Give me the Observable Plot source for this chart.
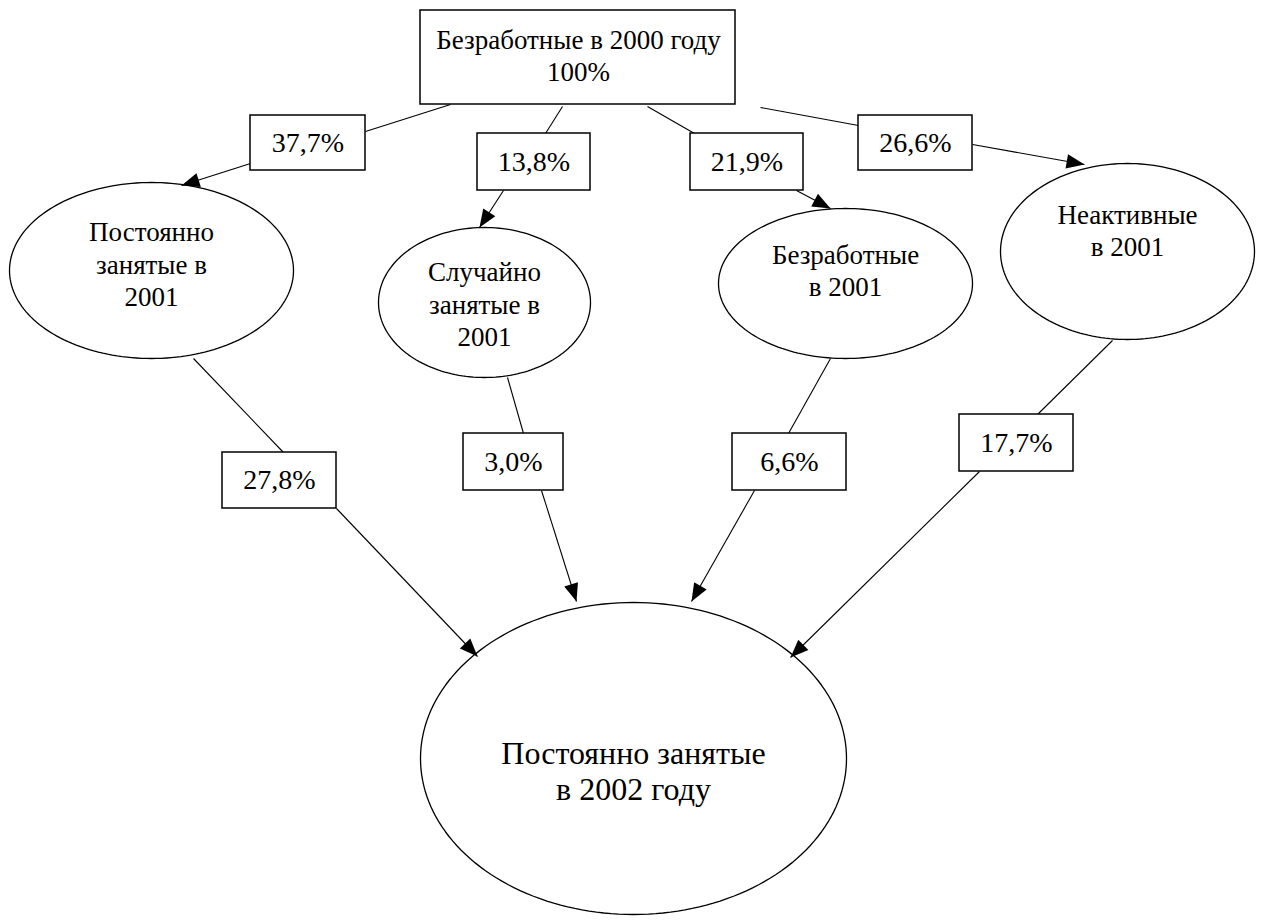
<!DOCTYPE html>
<html>
<head>
<meta charset="utf-8">
<script src="https://cdn.jsdelivr.net/npm/d3@7"></script>
<script src="https://cdn.jsdelivr.net/npm/@observablehq/plot@0.6"></script>
<style>
  html, body { margin: 0; padding: 0; background: #fff; }
  #chart svg { display: block; }
  #chart svg text { font-family: "Liberation Serif", "Times New Roman", "DejaVu Serif", serif !important; }
</style>
</head>
<body>
<div id="chart"></div>
<script>
// ---------- data ----------
const sourceLabel = "Безработные в 2000 году";
const sourceShare = 100;
const statuses2001 = ["Постоянно\nзанятые в\n2001", "Случайно\nзанятые в\n2001", "Безработные\nв 2001", "Неактивные\nв 2001"];
const sharesIn2001 = [37.7, 13.8, 21.9, 26.6];
const sharesTo2002 = [27.8, 3.0, 6.6, 17.7];
const targetLabel = "Постоянно занятые\nв 2002 году";

// ---------- layout (diagram space, same units as the page) ----------
const W = 1262, H = 920;
const sourceBox = {x1: 420, x2: 735, y1: 10, y2: 104, tx: 578, ty: 54};
const ellipses2001 = [
  {cx: 151, cy: 270, rx: 142, ry: 88, ty: 263},
  {cx: 484, cy: 302, rx: 106, ry: 75, ty: 303},
  {cx: 845, cy: 283, rx: 127, ry: 75, ty: 269},
  {cx: 1127, cy: 251, rx: 127, ry: 88, ty: 229}
];
const targetEllipse = {cx: 633, cy: 758, rx: 213, ry: 156, ty: 770};
const boxes1 = [
  {x1: 250, x2: 365, y1: 115, y2: 170},
  {x1: 477, x2: 590, y1: 133, y2: 190},
  {x1: 690, x2: 803, y1: 133, y2: 190},
  {x1: 858, x2: 972, y1: 115, y2: 170}
];
const boxes2 = [
  {x1: 222, x2: 336, y1: 452, y2: 508},
  {x1: 463, x2: 563, y1: 433, y2: 490},
  {x1: 732, x2: 846, y1: 433, y2: 490},
  {x1: 959, x2: 1073, y1: 414, y2: 471}
];
// each connector: [start, box-entry, box-exit, arrow tip]
const route1 = [
  [[450, 104], [365, 131], [250, 163], [181, 185]],
  [[562, 106], [545, 133], [503, 190], [479, 227]],
  [[647, 106], [694, 133], [796, 190], [830, 208]],
  [[760, 107], [858, 125], [972, 144], [1084, 164]]
];
const route2 = [
  [[193, 358], [283, 452], [336, 508], [477, 656]],
  [[507, 377], [523, 433], [541, 490], [576, 601]],
  [[830, 358], [788, 433], [754, 490], [691, 601]],
  [[1112, 340], [1037, 414], [979, 471], [790, 657]]
];

// ---------- helpers ----------
const SERIF = "Liberation Serif";
const fmt = v => d3.format(".1f")(v).replace(".", ",") + "%";
const ellipsePoints = (e, id) => d3.range(0, 181).map(k => {
  const t = (k / 180) * 2 * Math.PI;
  return {id, x: e.cx + e.rx * Math.cos(t), y: e.cy + e.ry * Math.sin(t)};
});
const ellipseData = [
  ...ellipses2001.flatMap((e, i) => ellipsePoints(e, "e" + i)),
  ...ellipsePoints(targetEllipse, "target")
];
const routes = [...route1, ...route2];
const links = routes.flatMap(r => [
  {x1: r[0][0], y1: r[0][1], x2: r[1][0], y2: r[1][1]},
  {x1: r[2][0], y1: r[2][1], x2: r[3][0], y2: r[3][1]}
]);
const heads = routes.map(r => {
  const [a, b] = [r[2], r[3]];
  const ang = Math.atan2(b[0] - a[0], -(b[1] - a[1])) * 180 / Math.PI;
  return {x: b[0], y: b[1], rotate: ang};
});
const arrowHead = {
  draw(ctx, size) {
    const r = Math.sqrt(size / Math.PI);
    const L = 2 * r, w = 0.8 * r;
    ctx.moveTo(0, 0);
    ctx.lineTo(w, L);
    ctx.lineTo(-w, L);
    ctx.closePath();
  }
};
const boxes = [{...sourceBox}, ...boxes1, ...boxes2];
const shareLabels = [
  ...boxes1.map((b, i) => ({x: (b.x1 + b.x2) / 2, y: (b.y1 + b.y2) / 2, text: fmt(sharesIn2001[i])})),
  ...boxes2.map((b, i) => ({x: (b.x1 + b.x2) / 2, y: (b.y1 + b.y2) / 2, text: fmt(sharesTo2002[i])}))
];
const nodeLabels = [
  {x: sourceBox.tx, y: sourceBox.ty, text: sourceLabel + "\n" + sourceShare + "%"},
  ...ellipses2001.map((e, i) => ({x: e.cx, y: e.ty, text: statuses2001[i]}))
];

const chart = Plot.plot({
  width: W,
  height: H,
  margin: 0,
  style: {fontFamily: SERIF, background: "#fff", color: "#000"},
  x: {domain: [0, W], range: [0, W], axis: null},
  y: {domain: [0, H], range: [0, H], axis: null},
  marks: [
    Plot.link(links, {x1: "x1", y1: "y1", x2: "x2", y2: "y2", stroke: "#000", strokeWidth: 1.1}),
    Plot.line(ellipseData, {x: "x", y: "y", z: "id", curve: "linear-closed", stroke: "#000", strokeWidth: 1.3, fill: "none"}),
    Plot.rect(boxes, {x1: "x1", x2: "x2", y1: "y1", y2: "y2", fill: "#fff", stroke: "#000", strokeWidth: 1.5}),
    Plot.dot(heads, {x: "x", y: "y", rotate: "rotate", symbol: arrowHead, r: 9, fill: "#000", stroke: "none"}),
    Plot.text(shareLabels, {x: "x", y: "y", text: "text", fontSize: 28, fontFamily: SERIF, fill: "#000"}),
    Plot.text(nodeLabels, {x: "x", y: "y", text: "text", fontSize: 27, lineHeight: 1.2, fontFamily: SERIF, fill: "#000"}),
    Plot.text([{x: targetEllipse.cx, y: targetEllipse.ty, text: targetLabel}], {x: "x", y: "y", text: "text", fontSize: 32, lineHeight: 1.12, fontFamily: SERIF, fill: "#000"})
  ]
});
document.getElementById("chart").appendChild(chart);
</script>
</body>
</html>
